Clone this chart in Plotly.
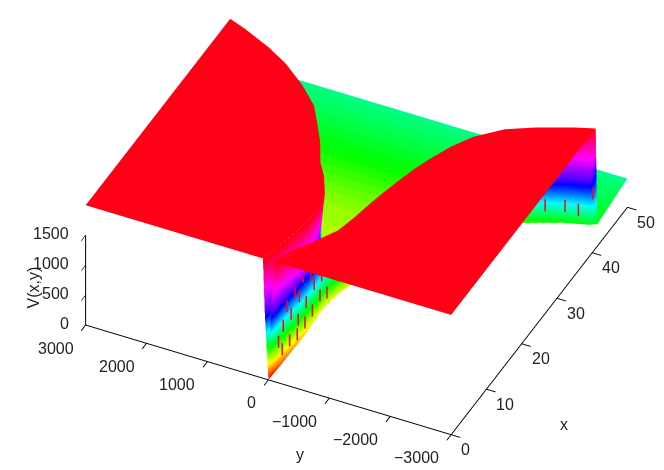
import colorsys
import plotly.graph_objects as go

# rows of the surface (x, then y of each edge of the valley)
x_rows   = [0, 3, 6, 9, 12, 15, 18, 21, 24, 27, 30, 33, 36, 38, 40, 41, 41.5, 44, 47, 50]
floor_z  = [0, 5, 15, 30, 50, 80, 120, 150, 190, 220, 250, 280, 310, 330, 350, 360, 365, 395, 440, 480]
floor_c  = [0, 90, 170, 230, 290, 320, 340, 360, 380, 410, 430, 460, 520, 560, 600, 620, 625, 670, 720, 774]
y_top_hi = [90, 0, -60, -130, -120, -60, 130, 380, 540, 760, 987, 1350, 1800, 2200, 2700, 3000, 3000, 3000, 3000, 3000]
y_mid_hi = [60, -2, -12, -32, -24, 35, 190, 365, 525, 745, 968, 1330, 1775, 2175, 2675, 2975, 3000, 3000, 3000, 3000]
y_flr_hi = [0, -5, -15, -35, -28, 30, 180, 350, 510, 730, 950, 1310, 1750, 2150, 2650, 2950, 3000, 3000, 3000, 3000]
y_flr_lo = [0, -15, -25, -40, -40, -40, -120, -260, -400, -600, -800, -1100, -1500, -1950, -2500, -2900, -3000, -3000, -3000, -3000]
y_mid_lo = [-40, -50, -75, -100, -110, -140, -220, -400, -560, -770, -980, -1280, -1700, -2050, -2560, -2920, -3000, -3000, -3000, -3000]
y_top_lo = [-90, -220, -430, -620, -700, -760, -830, -910, -1000, -1120, -1260, -1460, -1800, -2200, -2700, -3000, -3000, -3000, -3000, -3000]
y_edge   = 3000
z_cap    = 2000
z_mid    = 1100
c_mid    = 1300
c_top    = 1800
y_ticks  = [-3000, -2000, -1000, 0, 1000, 2000, 3000]
y_labels = ["\u22123000", "\u22122000", "\u22121000", "0", "1000", "2000", "3000"]
x_ticks  = [0, 10, 20, 30, 40, 50]
x_labels = ["0", "10", "20", "30", "40", "50"]
z_ticks  = [0, 500, 1000, 1500]
z_labels = ["0", "500", "1000", "1500"]

# short red streaks seen on the wall
dash_x = [2, 3, 3, 4, 5, 5, 6, 7, 7, 7, 8, 9, 9, 10, 11, 11, 12, 13, 13, 15, 15, 17, 17, 19, 38, 39, 40, 40.5, 41]
dash_y = [-25, -30, -45, -50, -35, -60, -65, -45, -60, -80, -85, -55, -75, -95, -60, -90, -105, -70, -100, -70, -110, -130, -165, -220,
          -2000, -2260, -2530, -2720, -2930]
dash_z = [500, 300, 700, 950, 300, 750, 1050, 250, 500, 900, 1150, 300, 650, 1050, 350, 800, 1050, 450, 800, 350, 750, 500, 850, 500,
          600, 650, 650, 600, 900]
dash_h = 100

X, Y, Z, C = [], [], [], []
for i, xr in enumerate(x_rows):
    f, fc = floor_z[i], floor_c[i]
    wall = xr <= 41
    cap, capc = (z_cap, c_top) if wall else (f, fc)
    mid, midc = (z_mid, c_mid) if wall else (f, fc)
    X.append([xr] * 8)
    Y.append([y_edge, y_top_hi[i], y_mid_hi[i], y_flr_hi[i], y_flr_lo[i], y_mid_lo[i], y_top_lo[i], -y_edge])
    Z.append([cap, cap, mid, f, f, mid, cap, cap])
    C.append([capc, capc, midc, fc, fc, midc, capc, capc])

stops = []
n = 64
for k in range(n):
    r, g, b = colorsys.hsv_to_rgb(k / n, 1, 1)
    c = f"rgb({int(r*255)},{int(g*255)},{int(b*255)})"
    stops += [[k / n, c], [(k + 1) / n, c]]

fig = go.Figure()
fig.add_trace(go.Surface(
    x=X, y=Y, z=Z, surfacecolor=C, cmin=0, cmax=c_top, colorscale=stops,
    showscale=False, hoverinfo="skip",
    lighting=dict(ambient=1, diffuse=0, specular=0, roughness=1, fresnel=0),
))
dx, dy, dz = [], [], []
for a, b, c in zip(dash_x, dash_y, dash_z):
    dx += [a, a, None]
    dy += [b - 25, b - 25, None]
    dz += [c - dash_h, c + dash_h, None]
fig.add_trace(go.Scatter3d(x=dx, y=dy, z=dz, mode="lines",
                           line=dict(color="#ff0018", width=3), hoverinfo="skip", showlegend=False))
fig.add_trace(go.Scatter3d(
    x=[x_ticks[0], x_ticks[0]], y=[y_ticks[-1], y_ticks[-1]], z=[z_ticks[0], z_ticks[-1]],
    mode="lines", line=dict(color="black", width=2), showlegend=False, hoverinfo="skip",
))
font = dict(family="Liberation Sans", size=16, color="#222")


def tick_note(x, y, z, text, xanchor, xshift, yshift):
    return dict(x=x, y=y, z=z, text=text, showarrow=False, font=font, xanchor=xanchor,
                yanchor="middle", xshift=xshift, yshift=yshift)


notes = []
for v, t in zip(y_ticks, y_labels):
    notes.append(tick_note(x_ticks[0], v, 0, t, "right", -10, -23))
for v, t in zip(x_ticks, x_labels):
    notes.append(tick_note(v, y_ticks[0], 0, t, "left", 8, -15))
for v, t in zip(z_ticks, z_labels):
    notes.append(tick_note(x_ticks[0], y_ticks[-1], v, t, "right", -15, 2))

axis = dict(showgrid=False, showbackground=False, zeroline=False, showspikes=False,
            showline=True, linecolor="black", linewidth=2, ticks="outside",
            tickcolor="black", tickwidth=2, ticklen=10, showticklabels=False)
R = 1.6
k = 1.727
center = dict(x=-0.1181, y=0.0211, z=-0.1224)
eye = dict(x=center["x"] - 0.705 * R, y=center["y"] - 0.340 * R, z=center["z"] + 0.622 * R)
fig.update_layout(
    width=664, height=470, margin=dict(l=0, r=0, t=0, b=0),
    paper_bgcolor="white", showlegend=False,
    annotations=[
        dict(text="x", x=562 / 664, y=43 / 470, xref="paper", yref="paper", showarrow=False, font=font),
        dict(text="y", x=292 / 664, y=13 / 470, xref="paper", yref="paper", showarrow=False, font=font),
        dict(text="V(x,y)", x=14 / 664, y=190 / 470, xref="paper", yref="paper", showarrow=False,
             font=font, textangle=-90),
    ],
    scene=dict(
        domain=dict(x=[0, 1], y=[0, 1]),
        annotations=notes,
        xaxis=dict(axis, range=[0, 50], tickvals=x_ticks, title=dict(text="")),
        yaxis=dict(axis, range=[-3000, 3000], tickvals=y_ticks, title=dict(text="")),
        zaxis=dict(axis, range=[0, z_cap], tickvals=z_ticks, showline=False, title=dict(text="")),
        aspectmode="manual", aspectratio=dict(x=k, y=k, z=0.377 * k),
        camera=dict(projection=dict(type="orthographic"), eye=eye,
                    center=center, up=dict(x=0, y=0, z=1)),
    ),
)
fig.write_html("out.html", default_width="664px", default_height="470px")
